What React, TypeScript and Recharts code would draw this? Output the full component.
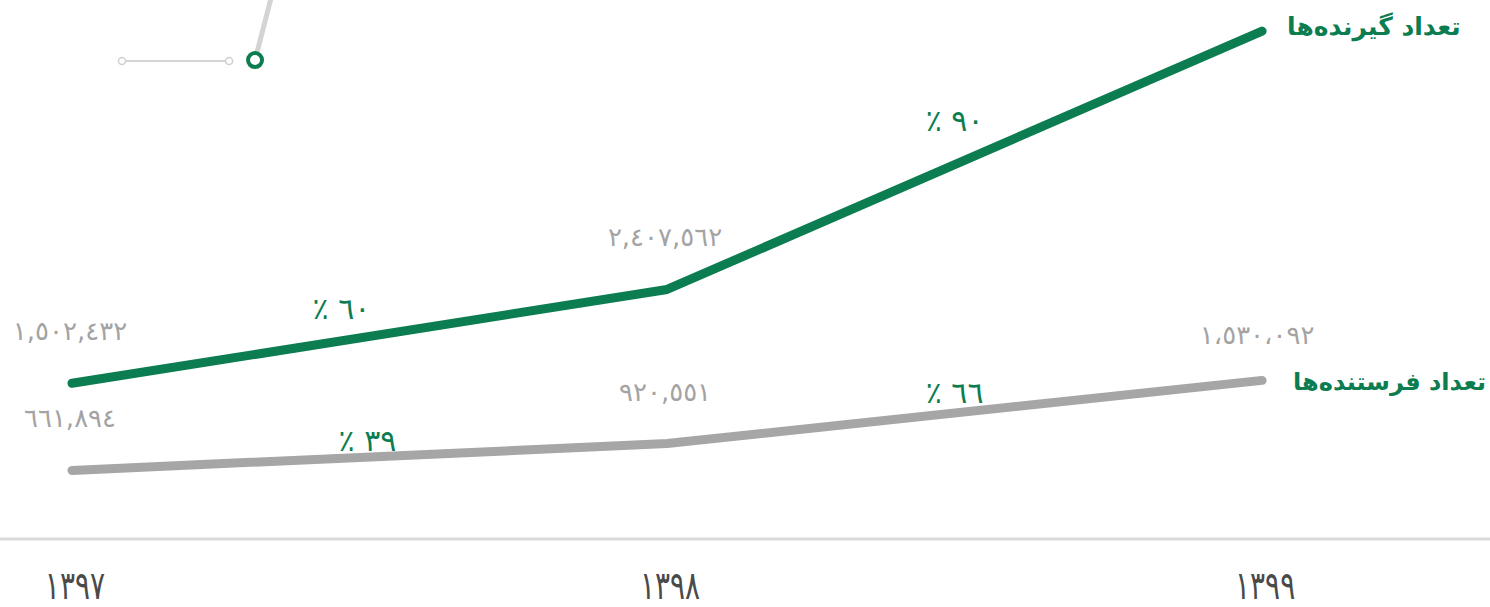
import React from 'react';
import { LineChart, Line, XAxis, YAxis, ReferenceLine, ReferenceDot, LabelList } from 'recharts';

// years (solar hijri) and counts
const years = [1397, 1398, 1399];
const yearLabels = ['١٣٩٧', '١٣٩٨', '١٣٩٩'];
const receivers = [1502432, 2407562, 4900000];
const senders = [661894, 920551, 1530092];
const receiverLabels = ['١,٥٠٢,٤٣٢', '٢,٤٠٧,٥٦٢', ''];
const senderLabels = ['٦٦١,٨٩٤', '٩٢٠,٥٥١', '١،٥٣٠،٠٩٢'];
const receiverGrowth = ['٦٠', '٩٠'];
const senderGrowth = ['٣٩', '٦٦'];
const receiverName = 'تعداد گیرنده‌ها';
const senderName = 'تعداد فرستنده‌ها';

const GREEN = '#0b7d50';
const GRAY = '#a6a6a6';
const LABEL_GRAY = '#a3a3a3';
const FONT = '"DejaVu Sans", sans-serif';

// nudges for the growth labels, relative to segment midpoints
const receiverGrowthOffset = [{ dx: -28, dy: -17 }, { dx: -10, dy: -29 }];
const senderGrowthOffset = [{ dx: -2, dy: -6 }, { dx: -10, dy: -9 }];

const data = years.map((year, i) => ({ year, receivers: receivers[i], senders: senders[i] }));

const valueLabel = (labels: string[]) => (props: any) => {
  const { x, y, index } = props;
  const text = labels[index];
  if (!text) return null;
  const last = index === labels.length - 1;
  return (
    <text x={x - (last ? 5 : 2)} y={y - (last ? 36 : 43)} textAnchor="middle" fill={LABEL_GRAY} fontSize={26} fontFamily={FONT}>
      {text}
    </text>
  );
};

const nameLabel = (name: string, gap: number, dy: number, size: number) => (props: any) => {
  const { x, y, index } = props;
  if (index !== years.length - 1) return null;
  return (
    <text x={x + gap} y={y + dy} textAnchor="start" fill={GREEN} fontSize={size} fontWeight={600} fontFamily={FONT}>
      {name}
    </text>
  );
};

const growthLabel = (text: string, dx: number, dy: number) => (props: any) => {
  const vb = props.viewBox || {};
  const cx = vb.x + (vb.width || 0) / 2;
  const cy = vb.y + (vb.height || 0) / 2;
  return (
    <text x={cx + dx} y={cy + dy} textAnchor="middle" fill={GREEN} fontSize={30} fontFamily={FONT}>
      {'٪ ' + text}
    </text>
  );
};

const YearTick = (props: any) => {
  const { x, y, payload } = props;
  return (
    <g transform={`translate(${x + 3},${y + 24}) scale(0.8,1)`}>
      <text x={0} y={0} textAnchor="middle" fill="#4a4a4a" fontSize={39} fontFamily='"DejaVu Sans Condensed", "DejaVu Sans", sans-serif'>
        {yearLabels[years.indexOf(payload.value)]}
      </text>
    </g>
  );
};

export default function App() {
  return (
    <div style={{ position: 'absolute', left: 0, top: 0, width: 1490, height: 607, background: '#fff' }}>
      <LineChart width={1490} height={607} data={data} margin={{ top: 0, right: 0, bottom: 0, left: 0 }}>
        <XAxis
          dataKey="year"
          type="number"
          domain={[1396.879, 1399.383]}
          ticks={years}
          axisLine={{ stroke: '#d9d9d9', strokeWidth: 3 }}
          tickLine={false}
          height={68}
          tickMargin={30}
          tick={<YearTick />}
        />
        <YAxis domain={[0, 5200000]} hide />

        {/* leftover annotation pointer in the top-left */}
        <ReferenceLine
          segment={[{ x: 1397.3076, y: 4621000 }, { x: 1397.338, y: 5296000 }]}
          stroke="#d4d4d4"
          strokeWidth={5}
          ifOverflow="visible"
        />
        <ReferenceLine
          segment={[{ x: 1397.084, y: 4611500 }, { x: 1397.264, y: 4611500 }]}
          stroke="#d4d4d4"
          strokeWidth={2}
          ifOverflow="visible"
        />
        <ReferenceDot x={1397.084} y={4611500} r={3.5} fill="#fff" stroke="#d0d0d0" strokeWidth={1.5} ifOverflow="visible" />
        <ReferenceDot x={1397.264} y={4611500} r={3.5} fill="#fff" stroke="#d0d0d0" strokeWidth={1.5} ifOverflow="visible" />
        <ReferenceDot x={1397.3076} y={4621000} r={7} fill="#fff" stroke={GREEN} strokeWidth={4} ifOverflow="visible" />

        <Line
          type="linear"
          dataKey="senders"
          stroke={GRAY}
          strokeWidth={9}
          strokeLinecap="round"
          strokeLinejoin="round"
          dot={false}
          activeDot={false}
          isAnimationActive={false}
        >
          <LabelList dataKey="senders" content={valueLabel(senderLabels)} />
          <LabelList dataKey="senders" content={nameLabel(senderName, 31, 10, 24)} />
        </Line>
        <Line
          type="linear"
          dataKey="receivers"
          stroke={GREEN}
          strokeWidth={9}
          strokeLinecap="round"
          strokeLinejoin="round"
          dot={false}
          activeDot={false}
          isAnimationActive={false}
        >
          <LabelList dataKey="receivers" content={valueLabel(receiverLabels)} />
          <LabelList dataKey="receivers" content={nameLabel(receiverName, 25, 4, 25)} />
        </Line>

        {receiverGrowth.map((g, i) => (
          <ReferenceDot
            key={'r' + i}
            x={(years[i] + years[i + 1]) / 2}
            y={(receivers[i] + receivers[i + 1]) / 2}
            r={1}
            fill="none"
            stroke="none"
            label={growthLabel(g, receiverGrowthOffset[i].dx, receiverGrowthOffset[i].dy)}
          />
        ))}
        {senderGrowth.map((g, i) => (
          <ReferenceDot
            key={'s' + i}
            x={(years[i] + years[i + 1]) / 2}
            y={(senders[i] + senders[i + 1]) / 2}
            r={1}
            fill="none"
            stroke="none"
            label={growthLabel(g, senderGrowthOffset[i].dx, senderGrowthOffset[i].dy)}
          />
        ))}
      </LineChart>
    </div>
  );
}
